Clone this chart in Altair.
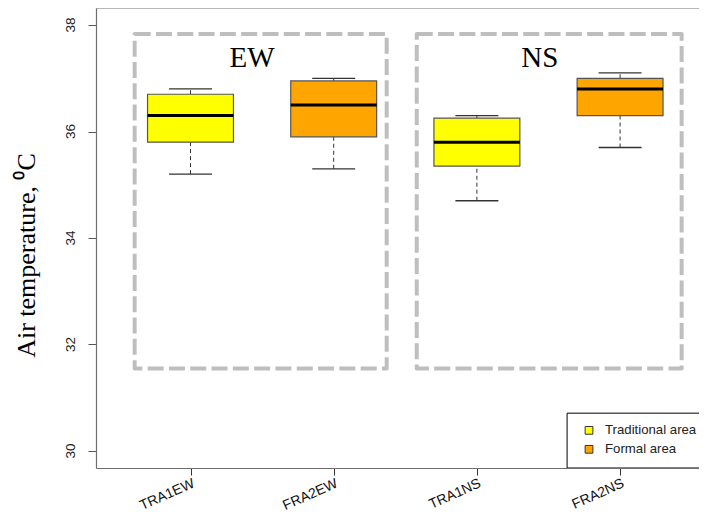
import json
import altair as alt
import pandas as pd

# ---- data ----
groups = ["TRA1EW", "FRA2EW", "TRA1NS", "FRA2NS"]
positions = [1, 2, 3, 4]
areas = ["Traditional area", "Formal area", "Traditional area", "Formal area"]
lower = [35.2, 35.3, 34.7, 35.7]
q1 = [35.8, 35.9, 35.35, 36.3]
median = [36.3, 36.5, 35.8, 36.8]
q3 = [36.7, 36.95, 36.25, 37.0]
upper = [36.8, 37.0, 36.3, 37.1]

panel_labels = ["EW", "NS"]
legend_labels = ["Traditional area", "Formal area"]
y_ticks = [30, 32, 34, 36, 38]

# ---- layout constants ----
X_DOM = [0.34, 4.607]
Y_DOM = [29.68, 38.32]
BOX_HALF = 0.3
CAP_HALF = 0.15
panel_x0 = [0.61, 2.58]
panel_x1 = [2.37, 4.43]
panel_y0 = 31.55
panel_y1 = 37.83
panel_text_x = [1.43, 3.44]
panel_text_y = 37.22
leg_x0, leg_x1, leg_y0, leg_y1 = 3.63, 4.7, Y_DOM[0], 30.71
leg_sq_x = 3.783
leg_txt_x = 3.895
leg_y = [30.387, 30.031]
ylab_x = 0.165

box = pd.DataFrame({
    "group": groups, "pos": positions, "area": areas,
    "lower": lower, "q1": q1, "median": median, "q3": q3, "upper": upper,
})
box["bx0"] = box["pos"] - BOX_HALF
box["bx1"] = box["pos"] + BOX_HALF
box["cx0"] = box["pos"] - CAP_HALF
box["cx1"] = box["pos"] + CAP_HALF

panels = pd.DataFrame({"label": panel_labels, "x0": panel_x0, "x1": panel_x1,
                       "tx": panel_text_x})
panels["y0"] = panel_y0
panels["y1"] = panel_y1
panels["ty"] = panel_text_y

legend = pd.DataFrame({"area": legend_labels, "y": leg_y})
legend["sx"] = leg_sq_x
legend["tx"] = leg_txt_x
legbox = pd.DataFrame({"x0": [leg_x0], "x1": [leg_x1], "y0": [leg_y0], "y1": [leg_y1]})
frame_top = pd.DataFrame({"x0": [X_DOM[0]], "x1": [X_DOM[1]], "y": [Y_DOM[1]]})
ylabels = pd.DataFrame({"v": y_ticks, "t": [str(v) for v in y_ticks]})
ylabels["x"] = ylab_x

label_expr = "%s[datum.value] || ''" % json.dumps([""] + groups)

x_axis = alt.Axis(values=positions, labelExpr=label_expr, title=None, grid=False,
                  labelAngle=-24, labelAlign="right", labelBaseline="top",
                  labelFont="Liberation Sans", labelFontSize=14, labelColor="#111",
                  labelPadding=1, tickSize=7, tickColor="#333", domainColor="#6e6e6e",
                  domainWidth=1.2)
y_axis = alt.Axis(values=y_ticks, title="Air temperature, \u2070C", grid=False,
                  labels=False, tickSize=8, tickColor="#555", domainColor="#6e6e6e",
                  domainWidth=1.2,
                  titleFont="Liberation Serif", titleFontSize=26, titleFontWeight="normal",
                  titleColor="#000", titleAngle=270, titleAlign="center",
                  titleBaseline="middle", titleX=-70, titleY=247)

xs = alt.Scale(domain=X_DOM, nice=False, zero=False)
ys = alt.Scale(domain=Y_DOM, nice=False, zero=False)


def X(f):
    return alt.X(f, type="quantitative", scale=xs, axis=x_axis)


def Y(f):
    return alt.Y(f, type="quantitative", scale=ys, axis=y_axis)


color = alt.Color("area:N", scale=alt.Scale(domain=legend_labels,
                                             range=["#FFFF00", "#FFA500"]), legend=None)

panel_rects = alt.Chart(panels).mark_rect(
    fill=None, stroke="#BEBEBE", strokeWidth=4, strokeDash=[16, 5.3], strokeJoin="round"
).encode(x=X("x0"), x2="x1", y=Y("y0"), y2="y1")

panel_text = alt.Chart(panels).mark_text(
    font="Liberation Serif", fontSize=29, color="#000", align="center", baseline="alphabetic"
).encode(x=X("tx"), y=Y("ty"), text="label:N")

whisk_hi = alt.Chart(box).mark_rule(color="#333", strokeDash=[4, 3], strokeWidth=1).encode(
    x=X("pos"), y=Y("q3"), y2="upper")
whisk_lo = alt.Chart(box).mark_rule(color="#333", strokeDash=[4, 3], strokeWidth=1).encode(
    x=X("pos"), y=Y("lower"), y2="q1")
cap_hi = alt.Chart(box).mark_rule(color="#333", strokeWidth=1.3).encode(
    x=X("cx0"), x2="cx1", y=Y("upper"))
cap_lo = alt.Chart(box).mark_rule(color="#333", strokeWidth=1.3).encode(
    x=X("cx0"), x2="cx1", y=Y("lower"))
boxes = alt.Chart(box).mark_rect(stroke="#555", strokeWidth=1.2).encode(
    x=X("bx0"), x2="bx1", y=Y("q1"), y2="q3", color=color)
medians = alt.Chart(box).mark_rule(color="#000", strokeWidth=3).encode(
    x=X("bx0"), x2="bx1", y=Y("median"))

top_line = alt.Chart(frame_top).mark_rule(color="#6e6e6e", strokeWidth=1.2).encode(
    x=X("x0"), x2="x1", y=Y("y"))

ylab = alt.Chart(ylabels).mark_text(
    font="Liberation Sans", fontSize=13.5, color="#222", angle=270,
    align="center", baseline="middle"
).encode(x=X("x"), y=Y("v"), text="t:N")

leg_box = alt.Chart(legbox).mark_rect(fill="#fff", stroke="#000", strokeWidth=1, clip=True).encode(
    x=X("x0"), x2="x1", y=Y("y0"), y2="y1")
leg_sq = alt.Chart(legend).mark_square(size=60, stroke="#333", strokeWidth=1, opacity=1).encode(
    x=X("sx"), y=Y("y"), color=color)
leg_txt = alt.Chart(legend).mark_text(
    font="Liberation Sans", fontSize=13.2, color="#222", align="left", baseline="middle"
).encode(x=X("tx"), y=Y("y"), text="area:N")

chart = alt.layer(
    panel_rects, panel_text, whisk_hi, whisk_lo, cap_hi, cap_lo, boxes, medians,
    top_line, ylab, leg_box, leg_sq, leg_txt
).properties(
    width=611, height=460, autosize="none",
    padding={"left": 88, "top": 0, "right": -8, "bottom": 47},
    background="#ffffff",
).configure_view(stroke=None)

chart.save("out.html", embed_options={"renderer": "svg", "actions": False})
